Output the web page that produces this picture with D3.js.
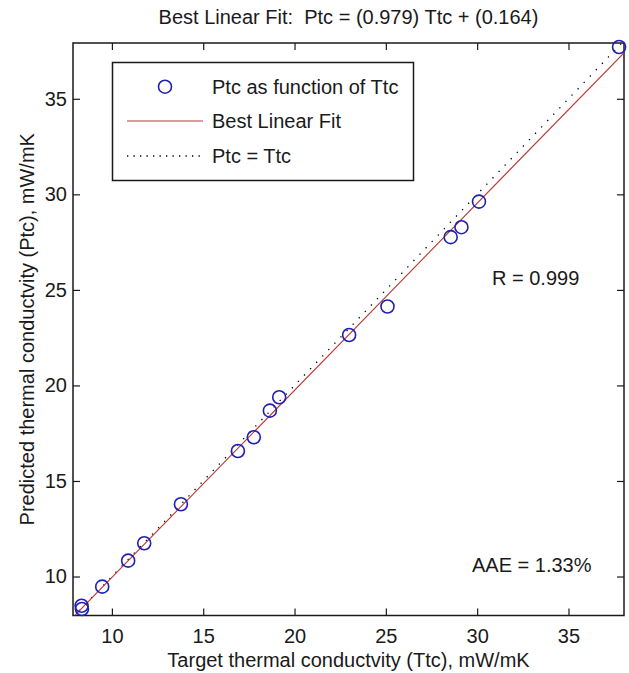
<!DOCTYPE html>
<html>
<head>
<meta charset="utf-8">
<script src="https://cdn.jsdelivr.net/npm/d3@7"></script>
<style>
  html, body { margin: 0; padding: 0; background: #fff; }
  svg text { font-family: "Liberation Sans", Arial, Helvetica, sans-serif; fill: #1a1a1a; }
</style>
</head>
<body>
<svg id="chart" width="629" height="673"></svg>
<script>
// ---- data ----
const targets   = [8.34, 8.36, 9.47, 10.89, 11.77, 13.78, 16.90, 17.77, 18.65, 19.16, 22.99, 25.09, 28.55, 29.14, 30.10, 37.77];
const predicted = [8.47, 8.30, 9.47, 10.83, 11.74, 13.78, 16.57, 17.29, 18.68, 19.38, 22.64, 24.13, 27.76, 28.28, 29.62, 37.71];
const xTicks = [10, 15, 20, 25, 30, 35];
const yTicks = [10, 15, 20, 25, 30, 35];
const xDomain = [7.87, 38.04];
const yDomain = [7.96, 37.92];
const fitSlope = 0.979;
const fitIntercept = 0.164;
const titleText = "Best Linear Fit:  Ptc = (0.979) Ttc + (0.164)";
const xLabel = "Target thermal conductvity (Ttc), mW/mK";
const yLabel = "Predicted thermal conductvity (Ptc), mW/mK";
const legendLabels = ["Ptc as function of Ttc", "Best Linear Fit", "Ptc = Ttc"];
const rText = "R = 0.999";
const aaeText = "AAE = 1.33%";

// ---- layout ----
const pL = 73, pR = 624, pT = 43, pB = 615.5;
const svg = d3.select("#chart");
const x = d3.scaleLinear().domain(xDomain).range([pL, pR]);
const y = d3.scaleLinear().domain(yDomain).range([pB, pT]);

const blue = "#1f1fb4", red = "#b83a36", ink = "#1a1a1a";
const fs = 20;

svg.append("rect").attr("width", 629).attr("height", 673).attr("fill", "#fff");

const defs = svg.append("defs");
defs.append("clipPath").attr("id", "clip")
  .append("rect").attr("x", pL).attr("y", pT).attr("width", pR - pL).attr("height", pB - pT);

// axes (MATLAB style: ticks inside, box with mirrored ticks)
const tl = 7;
const gxB = svg.append("g").attr("transform", `translate(0,${pB})`)
  .call(d3.axisBottom(x).tickValues(xTicks).tickSizeInner(-tl).tickSizeOuter(0).tickPadding(13));
const gxT = svg.append("g").attr("transform", `translate(0,${pT})`)
  .call(d3.axisTop(x).tickValues(xTicks).tickSizeInner(-tl).tickSizeOuter(0).tickFormat(""));
const gyL = svg.append("g").attr("transform", `translate(${pL},0)`)
  .call(d3.axisLeft(y).tickValues(yTicks).tickSizeInner(-tl).tickSizeOuter(0).tickPadding(6));
const gyR = svg.append("g").attr("transform", `translate(${pR},0)`)
  .call(d3.axisRight(y).tickValues(yTicks).tickSizeInner(-tl).tickSizeOuter(0).tickFormat(""));
[gxB, gxT, gyL, gyR].forEach(g => {
  g.select(".domain").remove();
  g.selectAll(".tick line").attr("stroke", ink).attr("stroke-width", 1.2);
  g.selectAll(".tick text").attr("font-size", fs).attr("fill", ink)
    .attr("font-family", '"Liberation Sans", Arial, sans-serif');
});
svg.append("rect").attr("x", pL).attr("y", pT).attr("width", pR - pL).attr("height", pB - pT)
  .attr("fill", "none").attr("stroke", ink).attr("stroke-width", 1.5);

const plot = svg.append("g").attr("clip-path", "url(#clip)");

// identity line Ptc = Ttc (dotted)
const line = d3.line().x(d => x(d[0])).y(d => y(d[1]));
plot.append("path")
  .datum([[xDomain[0], xDomain[0]], [xDomain[1], xDomain[1]]])
  .attr("d", line).attr("fill", "none").attr("stroke", "#000").attr("stroke-width", 1.3)
  .attr("stroke-dasharray", "1.3,7.5");

// best linear fit
plot.append("path")
  .datum([[xDomain[0], fitSlope * xDomain[0] + fitIntercept], [xDomain[1], fitSlope * xDomain[1] + fitIntercept]])
  .attr("d", line).attr("fill", "none").attr("stroke", red).attr("stroke-width", 1.1);

// points
svg.append("g").selectAll("circle").data(targets.map((t, i) => [t, predicted[i]])).join("circle")
  .attr("cx", d => x(d[0])).attr("cy", d => y(d[1])).attr("r", 6.5)
  .attr("fill", "none").attr("stroke", blue).attr("stroke-width", 1.6);

// title and labels
svg.append("text").attr("x", (pL + pR) / 2).attr("y", 24).attr("text-anchor", "middle")
  .attr("font-size", fs).style("white-space", "pre").text(titleText);
svg.append("text").attr("x", (pL + pR) / 2).attr("y", 667).attr("text-anchor", "middle")
  .attr("font-size", fs).text(xLabel);
svg.append("text").attr("transform", `translate(34,${(pT + pB) / 2}) rotate(-90)`)
  .attr("text-anchor", "middle").attr("font-size", fs).text(yLabel);

svg.append("text").attr("x", 492).attr("y", 285).attr("font-size", fs).text(rText);
svg.append("text").attr("x", 472).attr("y", 572).attr("font-size", fs).text(aaeText);

// legend
const lg = svg.append("g");
lg.append("rect").attr("x", 112.5).attr("y", 62.5).attr("width", 301).attr("height", 118)
  .attr("fill", "#fff").attr("stroke", ink).attr("stroke-width", 1.5);
const rows = [86.7, 121, 156];
const sx0 = 127, sx1 = 203, tx = 212;
lg.append("circle").attr("cx", (sx0 + sx1) / 2).attr("cy", rows[0]).attr("r", 6.5)
  .attr("fill", "none").attr("stroke", blue).attr("stroke-width", 1.6);
lg.append("line").attr("x1", sx0).attr("x2", sx1).attr("y1", rows[1]).attr("y2", rows[1])
  .attr("stroke", red).attr("stroke-width", 1.1);
lg.append("line").attr("x1", sx0).attr("x2", sx1).attr("y1", rows[2]).attr("y2", rows[2])
  .attr("stroke", "#000").attr("stroke-width", 1.3).attr("stroke-dasharray", "1.3,5.2");
legendLabels.forEach((t, i) => {
  lg.append("text").attr("x", tx).attr("y", rows[i]).attr("dy", "0.35em").attr("font-size", fs).text(t);
});
</script>
</body>
</html>
